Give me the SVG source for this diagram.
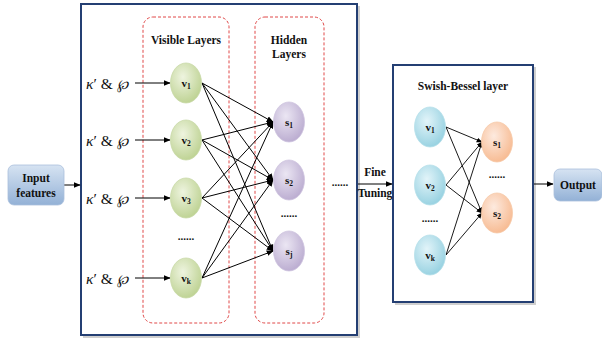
<svg xmlns="http://www.w3.org/2000/svg" width="602" height="340" viewBox="0 0 602 340">
  <defs>
    <radialGradient id="gGreen" cx="0.4" cy="0.35" r="0.7">
      <stop offset="0" stop-color="#eef4df"/>
      <stop offset="1" stop-color="#bcd190"/>
    </radialGradient>
    <radialGradient id="gPurple" cx="0.4" cy="0.35" r="0.7">
      <stop offset="0" stop-color="#ebe6f3"/>
      <stop offset="1" stop-color="#b9aacf"/>
    </radialGradient>
    <radialGradient id="gCyan" cx="0.4" cy="0.35" r="0.7">
      <stop offset="0" stop-color="#e2f4f9"/>
      <stop offset="1" stop-color="#94d0e0"/>
    </radialGradient>
    <radialGradient id="gOrange" cx="0.4" cy="0.35" r="0.7">
      <stop offset="0" stop-color="#fdeadf"/>
      <stop offset="1" stop-color="#f7b98f"/>
    </radialGradient>
    <linearGradient id="gBox" x1="0" y1="0" x2="0" y2="1">
      <stop offset="0" stop-color="#d6e3f2"/>
      <stop offset="1" stop-color="#93b1d6"/>
    </linearGradient>
    <marker id="arr" viewBox="0 0 10 10" refX="9" refY="5" markerWidth="7" markerHeight="7" markerUnits="userSpaceOnUse" orient="auto">
      <path d="M0,1 L10,5 L0,9 z" fill="#000"/>
    </marker>
    <marker id="arrS" viewBox="0 0 10 10" refX="9" refY="5" markerWidth="6" markerHeight="6" markerUnits="userSpaceOnUse" orient="auto">
      <path d="M0,1 L10,5 L0,9 z" fill="#000"/>
    </marker>
  </defs>
  <style>
    .frame { fill: #fff; stroke: #243f73; stroke-width: 2; }
    .shadow { fill: #cfcfcf; }
    .dash { fill: none; stroke: #e04848; stroke-width: 1; stroke-dasharray: 3 2; }
    .t { font-family: "Liberation Serif", "Times New Roman", serif; font-weight: bold; fill: #111; text-anchor: middle; }
    .title { font-size: 11.5px; }
    .lbl { font-size: 11px; }
    .sub { font-size: 7.5px; }
    .kp { font-family: "Liberation Serif", "Times New Roman", serif; font-size: 15.5px; fill: #111; }
    .wp { font-family: "DejaVu Serif", serif; font-style: italic; font-size: 13.5px; }
    .edge { stroke: #000; stroke-width: 1; fill: none; marker-end: url(#arr); }
    .edgeS { stroke: #000; stroke-width: 0.9; fill: none; marker-end: url(#arrS); }
    .dots { font-family: "Liberation Serif", serif; font-weight: bold; font-size: 11px; fill: #111; text-anchor: middle; }
    .nG { fill: url(#gGreen); stroke: #c9d9a8; stroke-width: 0.8; }
    .nP { fill: url(#gPurple); stroke: #cfc5e0; stroke-width: 0.8; }
    .nC { fill: url(#gCyan); stroke: #b6e0ea; stroke-width: 0.8; }
    .nO { fill: url(#gOrange); stroke: #f6caa9; stroke-width: 0.8; }
    .pill { fill: url(#gBox); stroke: #a9bfdc; stroke-width: 0.8; }
  </style>

  <!-- frames -->
  <g id="main-frame">
    <rect class="shadow" x="83" y="6" width="277" height="332"/>
    <rect class="frame" x="81" y="4" width="276" height="331"/>
  </g>
  <g id="visible-layer">
    <rect class="dash" x="143" y="17" width="86" height="306" rx="10"/>
    <text class="t title" x="186" y="44">Visible Layers</text>
  </g>
  <g id="hidden-layer">
    <rect class="dash" x="255" y="17" width="69" height="306" rx="10"/>
    <text class="t title" x="289" y="44">Hidden</text>
    <text class="t title" x="289" y="58">Layers</text>
  </g>
  <g id="swish-frame">
    <rect class="shadow" x="395" y="67" width="141" height="238"/>
    <rect class="frame" x="393" y="65" width="140" height="237"/>
    <text class="t title" x="463" y="90">Swish-Bessel layer</text>
  </g>

  <!-- connectors -->
  <g id="connectors">
    <!-- inputs to visible units -->
    <line class="edge" x1="135" y1="83" x2="170" y2="83"/>
    <line class="edge" x1="135" y1="140" x2="170" y2="140"/>
    <line class="edge" x1="135" y1="198" x2="170" y2="198"/>
    <line class="edge" x1="135" y1="278" x2="170" y2="278"/>
    <!-- visible to hidden, fully connected -->
    <line class="edge" x1="202" y1="83" x2="273" y2="122"/>
    <line class="edge" x1="202" y1="83" x2="273" y2="180"/>
    <line class="edge" x1="202" y1="83" x2="273" y2="251"/>
    <line class="edge" x1="202" y1="140" x2="273" y2="122"/>
    <line class="edge" x1="202" y1="140" x2="273" y2="180"/>
    <line class="edge" x1="202" y1="140" x2="273" y2="251"/>
    <line class="edge" x1="202" y1="198" x2="273" y2="122"/>
    <line class="edge" x1="202" y1="198" x2="273" y2="180"/>
    <line class="edge" x1="202" y1="198" x2="273" y2="251"/>
    <line class="edge" x1="202" y1="278" x2="273" y2="122"/>
    <line class="edge" x1="202" y1="278" x2="273" y2="180"/>
    <line class="edge" x1="202" y1="278" x2="273" y2="251"/>
    <!-- stage links -->
    <line class="edge" x1="64" y1="185" x2="80" y2="185"/>
    <line class="edge" x1="358" y1="184" x2="392" y2="184"/>
    <line class="edge" x1="534" y1="184" x2="553" y2="184"/>
    <!-- swish-bessel links -->
    <line class="edgeS" x1="446" y1="127" x2="482" y2="142"/>
    <line class="edgeS" x1="446" y1="127" x2="482" y2="213"/>
    <line class="edgeS" x1="446" y1="185" x2="482" y2="142"/>
    <line class="edgeS" x1="446" y1="185" x2="482" y2="213"/>
    <line class="edgeS" x1="446" y1="255" x2="482" y2="142"/>
    <line class="edgeS" x1="446" y1="255" x2="482" y2="213"/>
  </g>

  <!-- input labels -->
  <g id="inputs">
    <text class="kp" x="86" y="89"><tspan font-style="italic">κ</tspan>′ &amp; <tspan class="wp">℘</tspan></text>
    <text class="kp" x="86" y="146"><tspan font-style="italic">κ</tspan>′ &amp; <tspan class="wp">℘</tspan></text>
    <text class="kp" x="86" y="204"><tspan font-style="italic">κ</tspan>′ &amp; <tspan class="wp">℘</tspan></text>
    <text class="kp" x="86" y="284"><tspan font-style="italic">κ</tspan>′ &amp; <tspan class="wp">℘</tspan></text>
  </g>

  <!-- visible units -->
  <g id="v1"><ellipse class="nG" cx="186" cy="83" rx="15.5" ry="20"/><text class="t lbl" x="186" y="87">v<tspan class="sub" dy="2">1</tspan></text></g>
  <g id="v2"><ellipse class="nG" cx="186" cy="140" rx="15.5" ry="20"/><text class="t lbl" x="186" y="144">v<tspan class="sub" dy="2">2</tspan></text></g>
  <g id="v3"><ellipse class="nG" cx="186" cy="198" rx="15.5" ry="20"/><text class="t lbl" x="186" y="202">v<tspan class="sub" dy="2">3</tspan></text></g>
  <text class="dots" x="186" y="240">......</text>
  <g id="vk"><ellipse class="nG" cx="186" cy="278" rx="15.5" ry="20"/><text class="t lbl" x="186" y="282">v<tspan class="sub" dy="2">k</tspan></text></g>

  <!-- hidden units -->
  <g id="s1"><ellipse class="nP" cx="289" cy="122" rx="15.5" ry="20"/><text class="t lbl" x="289" y="126">s<tspan class="sub" dy="2">1</tspan></text></g>
  <g id="s2"><ellipse class="nP" cx="289" cy="180" rx="15.5" ry="20"/><text class="t lbl" x="289" y="184">s<tspan class="sub" dy="2">2</tspan></text></g>
  <text class="dots" x="289" y="217">......</text>
  <g id="sj"><ellipse class="nP" cx="289" cy="251" rx="15.5" ry="20"/><text class="t lbl" x="289" y="255">s<tspan class="sub" dy="2">j</tspan></text></g>

  <text class="dots" x="340" y="186">......</text>
  <g id="fine-tuning">
    <text class="t title" x="375" y="176">Fine</text>
    <text class="t title" x="375" y="197">Tuning</text>
  </g>

  <!-- swish-bessel units -->
  <g id="sb-v1"><ellipse class="nC" cx="430" cy="127" rx="15.5" ry="20"/><text class="t lbl" x="430" y="131">v<tspan class="sub" dy="2">1</tspan></text></g>
  <g id="sb-v2"><ellipse class="nC" cx="430" cy="185" rx="15.5" ry="20"/><text class="t lbl" x="430" y="189">v<tspan class="sub" dy="2">2</tspan></text></g>
  <text class="dots" x="430" y="222">......</text>
  <g id="sb-vk"><ellipse class="nC" cx="430" cy="255" rx="15.5" ry="20"/><text class="t lbl" x="430" y="259">v<tspan class="sub" dy="2">k</tspan></text></g>
  <g id="sb-s1"><ellipse class="nO" cx="497" cy="142" rx="15.5" ry="20"/><text class="t lbl" x="497" y="146">s<tspan class="sub" dy="2">1</tspan></text></g>
  <text class="dots" x="497" y="178">......</text>
  <g id="sb-s2"><ellipse class="nO" cx="497" cy="213" rx="15.5" ry="20"/><text class="t lbl" x="497" y="217">s<tspan class="sub" dy="2">2</tspan></text></g>

  <!-- terminals -->
  <g id="input-features">
    <rect class="pill" x="8" y="165" width="56" height="40" rx="6"/>
    <text class="t title" x="36" y="182">Input</text>
    <text class="t title" x="36" y="197">features</text>
  </g>
  <g id="output">
    <rect class="pill" x="554" y="169" width="48" height="32" rx="6"/>
    <text class="t title" x="578" y="189">Output</text>
  </g>
</svg>
